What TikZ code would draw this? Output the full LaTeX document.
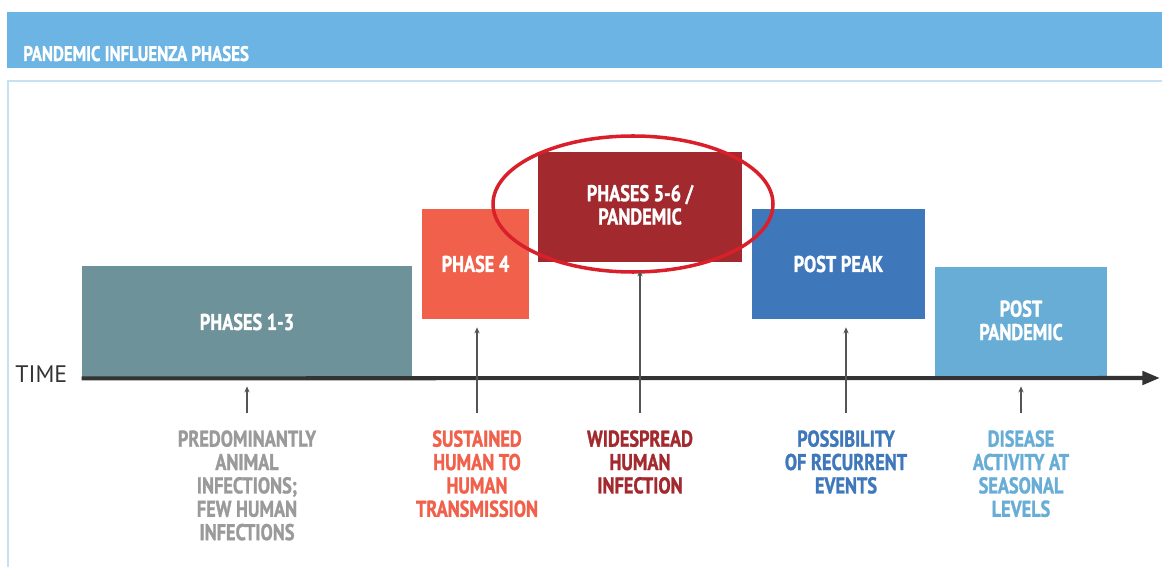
\documentclass[tikz,border=0pt]{standalone}
\usepackage{fontspec}
\setmainfont{PT Sans}[FakeStretch=0.8, BoldFeatures={FakeBold=1.2}]
\newfontfamily\timefont{PT Sans}
\usetikzlibrary{arrows.meta,positioning}
\definecolor{headblue}{HTML}{6CB4E3}
\definecolor{frameblue}{HTML}{C6E1F4}
\definecolor{earlygray}{HTML}{6E9299}
\definecolor{alertred}{HTML}{F0604B}
\definecolor{pandemicred}{HTML}{A2292E}
\definecolor{peakblue}{HTML}{3F77BB}
\definecolor{seasonblue}{HTML}{68ADD6}
\definecolor{notegray}{HTML}{9A9A9A}
\definecolor{ringred}{HTML}{D9202A}
\definecolor{axisgray}{HTML}{333333}
\definecolor{pointergray}{HTML}{555555}
\tikzset{
  phasebox/.style={rectangle, inner sep=0pt, text=white, align=center,
    font=\bfseries\fontsize{13}{13.3}\selectfont},
  phasenote/.style={anchor=north, inner sep=0pt, align=center,
    font=\bfseries\fontsize{13}{13.3}\selectfont},
  pointer/.style={draw=pointergray, line width=0.6pt,
    -{Stealth[length=3.5pt,width=3pt]}, shorten <=0.34cm, shorten >=0.16cm},
}
\begin{document}
\begin{tikzpicture}[x=0.02cm,y=-0.02cm]
  \useasboundingbox (0,0) rectangle (1162,567);
  \fill[headblue] (7,12) rectangle (1162,68);
  \node[anchor=base west, inner sep=0pt, text=white,
    font=\bfseries\fontsize{12}{13}\selectfont] (title) at (23,61)
    {PANDEMIC INFLUENZA PHASES};
  \draw[frameblue, line width=1.2pt] (1163,81) -- (8,81) -- (8,568);

  \node[phasebox, fill=earlygray, minimum width=6.6cm, minimum height=2.24cm]
    (p13) at (247,322) {PHASES 1-3};
  \node[phasebox, fill=alertred, minimum width=2.14cm, minimum height=2.2cm]
    (p4) at (475.5,264) {PHASE 4};
  \node[phasebox, fill=pandemicred, minimum width=4.08cm, minimum height=2.2cm]
    (p56) at (640,207) {PHASES 5-6 /\\PANDEMIC\vphantom{p}};
  \node[phasebox, fill=peakblue, minimum width=3.46cm, minimum height=2.2cm]
    (peak) at (838.5,264) {POST PEAK};
  \node[phasebox, fill=seasonblue, minimum width=3.44cm, minimum height=2.22cm]
    (post) at (1021,322.5) {POST\\PANDEMIC\vphantom{p}};

  \draw[ringred, line width=2pt] (633,204) ellipse [x radius=140, y radius=68];

  \node[anchor=base west, inner sep=0pt, text=axisgray,
    font=\timefont\fontsize{13.6}{14}\selectfont] (time) at (15,382) {TIME};
  \coordinate (axisend) at (1160,378);
  \draw[axisgray, line width=2.3pt, -{Triangle[length=10pt,width=7.5pt]}]
    (p13.south west) -- (axisend);

  \node[phasenote, text=notegray] (n13) at (247,430)
    {PREDOMINANTLY\\ANIMAL\\INFECTIONS;\\FEW HUMAN\\INFECTIONS};
  \node[phasenote, text=alertred] (n4) at (477,430)
    {SUSTAINED\\HUMAN TO\\HUMAN\\TRANSMISSION};
  \node[phasenote, text=pandemicred] (n56) at (640,430)
    {WIDESPREAD\\HUMAN\\INFECTION};
  \node[phasenote, text=peakblue] (npeak) at (846,430)
    {POSSIBILITY\\OF RECURRENT\\EVENTS};
  \node[phasenote, text=seasonblue] (npost) at (1021,430)
    {DISEASE\\ACTIVITY AT\\SEASONAL\\LEVELS};

  \draw[pointer] (n13.north) -- (n13.north |- p13.south);
  \draw[pointer] (n4.north) -- (n4.north |- p4.south);
  \draw[pointer] (n56.north) -- (n56.north |- p56.south);
  \draw[pointer] (npeak.north) -- (npeak.north |- peak.south);
  \draw[pointer] (npost.north) -- (npost.north |- post.south);
\end{tikzpicture}
\end{document}
